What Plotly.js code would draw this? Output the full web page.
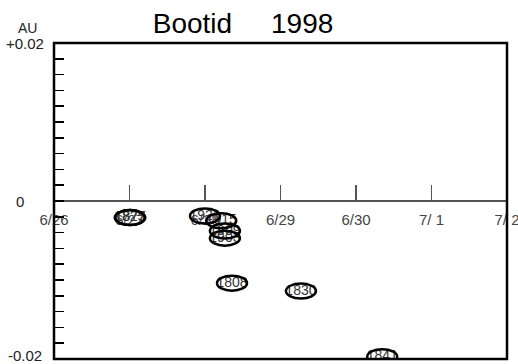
<!DOCTYPE html>
<html>
<head>
<meta charset="utf-8">
<script src="https://cdn.plot.ly/plotly-3.0.1.min.js"></script>
<style>html,body{margin:0;padding:0;background:#fff;}#chart{width:518px;height:364px;}</style>
</head>
<body>
<div id="chart"></div>
<script>
// Trail labels (ejection years), encounter times and distances (AU)
const trailLabels = ['1825', '1877', '1921', '1915', '1909', '1903', '1808', '1830', '1841'];
const encounterTimes = ['1998-06-27 00:05', '1998-06-27 00:15', '1998-06-28 00:00', '1998-06-28 05:10',
  '1998-06-28 06:20', '1998-06-28 06:20', '1998-06-28 08:35', '1998-06-29 06:30', '1998-06-30 08:20'];
const distanceAU = [-0.0021, -0.0021, -0.0019, -0.0025, -0.0038, -0.0047, -0.0104, -0.0114, -0.0197];

const dateTicks = ['1998-06-26', '1998-06-27', '1998-06-28', '1998-06-29', '1998-06-30', '1998-07-01', '1998-07-02'];
const dateTickText = ['6/26', '6/27', '6/28', '6/29', '6/30', '7/ 1', '7/ 2'];
const yTickVals = [0.02, 0, -0.02];
const yTickText = ['+0.02', '0', '-0.02'];

const FONT = 'Liberation Sans, Arial, sans-serif';

const shapes = encounterTimes.map((t, i) => ({
  type: 'circle', xref: 'x', yref: 'y',
  xsizemode: 'pixel', ysizemode: 'pixel',
  xanchor: t, yanchor: distanceAU[i],
  x0: -15, x1: 15, y0: -7.5, y1: 7.5,
  line: {color: '#000', width: 2.5}, layer: 'above'
}));
shapes.push({type: 'rect', xref: 'paper', yref: 'paper', x0: 0, x1: 1, y0: 0, y1: 1,
  line: {color: '#000', width: 2.5}, layer: 'above'});

const yLabelShift = [0, 0, 4];
const annotations = yTickVals.map((v, i) => ({
  xref: 'paper', yref: 'y', x: (i === 1 ? -0.075 : -0.064), y: v, yshift: yLabelShift[i],
  text: yTickText[i], showarrow: false, xanchor: 'center', yanchor: 'middle',
  font: {family: FONT, size: 15, color: '#222'}
}));
annotations.push({xref: 'paper', yref: 'paper', x: -0.059, y: 1.0, yshift: 15,
  text: 'AU', showarrow: false, xanchor: 'center', yanchor: 'middle',
  font: {family: FONT, size: 14, color: '#222'}});

const data = [{
  type: 'scatter', mode: 'text',
  x: encounterTimes, y: distanceAU, text: trailLabels,
  textposition: 'middle center',
  textfont: {family: FONT, size: 14, color: '#333'},
  cliponaxis: true, hoverinfo: 'skip'
}];

const layout = {
  width: 518, height: 364,
  margin: {l: 54, r: 11, t: 43, b: 5, pad: 0},
  paper_bgcolor: '#fff', plot_bgcolor: '#fff',
  showlegend: false,
  title: {text: 'Bootid\u00a0\u00a0\u00a0\u00a0\u00a01998', font: {family: FONT, size: 28, color: '#000'},
    x: 243 / 518, xref: 'container', xanchor: 'center', y: 1 - 23 / 364, yref: 'container', yanchor: 'middle'},
  xaxis: {
    type: 'date', range: ['1998-06-26', '1998-07-02'],
    anchor: 'free', position: 0.5,
    tickvals: dateTicks, ticktext: dateTickText,
    ticks: 'inside', ticklen: 15, tickwidth: 1.5, tickcolor: '#555',
    showline: true, linecolor: '#555', linewidth: 2,
    showgrid: false, zeroline: false, ticklabelstandoff: 5,
    ticklabeloverflow: 'allow',
    tickfont: {family: FONT, size: 15, color: '#444'}
  },
  yaxis: {
    range: [-0.02, 0.02], tick0: 0, dtick: 0.002,
    ticks: 'inside', ticklen: 10, tickwidth: 1.5, tickcolor: '#000',
    showticklabels: false, showgrid: false, zeroline: false, showline: false
  },
  shapes: shapes,
  annotations: annotations
};

Plotly.newPlot('chart', data, layout, {displayModeBar: false, staticPlot: true});
</script>
</body>
</html>
